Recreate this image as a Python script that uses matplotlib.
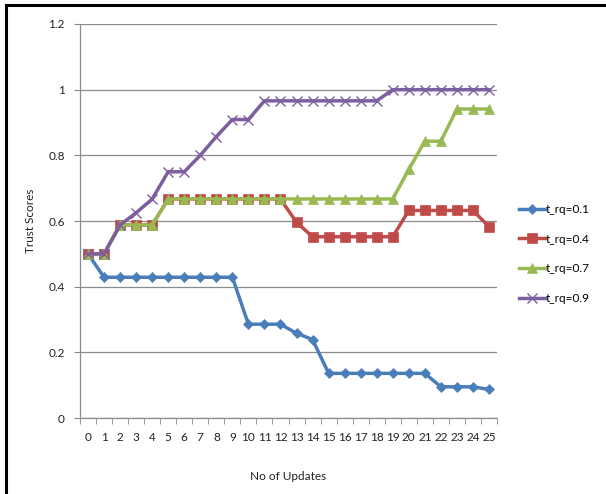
import matplotlib
matplotlib.use("Agg")
import matplotlib.pyplot as plt
from matplotlib.lines import Line2D
import numpy as np

updates = list(range(26))
trust_01 = [0.5, 0.4286, 0.4286, 0.4286, 0.4286, 0.4286, 0.4286, 0.4286, 0.4286, 0.4286,
            0.2857, 0.2857, 0.2857, 0.258, 0.239, 0.136, 0.136, 0.136, 0.136, 0.136,
            0.136, 0.136, 0.095, 0.095, 0.095, 0.087]
trust_04 = [0.5, 0.5, 0.588, 0.588, 0.588, 0.667, 0.667, 0.667, 0.667, 0.667,
            0.667, 0.667, 0.667, 0.596, 0.552, 0.552, 0.552, 0.552, 0.552, 0.552,
            0.632, 0.632, 0.632, 0.632, 0.632, 0.583]
trust_07 = [0.5, 0.5, 0.588, 0.588, 0.588, 0.667, 0.667, 0.667, 0.667, 0.667,
            0.667, 0.667, 0.667, 0.667, 0.667, 0.667, 0.667, 0.667, 0.667, 0.667,
            0.757, 0.843, 0.843, 0.941, 0.941, 0.941]
trust_09 = [0.5, 0.5, 0.588, 0.625, 0.667, 0.75, 0.75, 0.8, 0.857, 0.909,
            0.909, 0.966, 0.966, 0.966, 0.966, 0.966, 0.966, 0.966, 0.966, 1.0,
            1.0, 1.0, 1.0, 1.0, 1.0, 1.0]
labels = ["t_rq=0.1", "t_rq=0.4", "t_rq=0.7", "t_rq=0.9"]

plt.rcParams['font.family'] = ['Lato', 'DejaVu Sans']

fig = plt.figure(figsize=(6.06, 4.94), dpi=100)
ax = fig.add_axes([80/606, 1-418/494, (497-80)/606, (418-24)/494])

styles = [
    dict(color="#4A7EBB", marker="D", ms=5.5),
    dict(color="#BE4B48", marker="s", ms=6.5),
    dict(color="#98B954", marker="^", ms=7.5),
    dict(color="#7D5FA0", marker="x", ms=7, mew=1.0),
]
series = [trust_01, trust_04, trust_07, trust_09]
handles = []
for vals, st, lab in zip(series, styles, labels):
    h, = ax.plot(updates, vals, lw=2.5, label=lab, color=st["color"],
                 marker=st["marker"], markersize=st["ms"],
                 markeredgewidth=st.get("mew", 0.5), markeredgecolor=st["color"],
                 markerfacecolor=st["color"], solid_joinstyle="round")
    handles.append(h)

ax.set_xlim(-0.5, 25.5)
ax.set_ylim(0, 1.2)
ax.set_yticks(np.arange(0, 1.21, 0.2))
ax.set_yticklabels(["0", "0.2", "0.4", "0.6", "0.8", "1", "1.2"])
ax.set_xticks(updates)
ax.set_xticklabels([str(u) for u in updates])
ax.set_xticks(np.arange(-0.5, 25.6, 1), minor=True)
ax.tick_params(axis="x", which="major", length=0, pad=10, labelsize=8.5, colors="#222222")
ax.tick_params(axis="x", which="minor", length=4, color="#888888", direction="out")
ax.tick_params(axis="y", length=4, color="#888888", labelsize=8.5, colors="#222222", pad=7)
ax.grid(axis="y", color="#8c8c8c", lw=0.9)
ax.set_axisbelow(True)
for side in ("top", "right"):
    ax.spines[side].set_visible(False)
for side in ("left", "bottom"):
    ax.spines[side].set_color("#8c8c8c")
    ax.spines[side].set_linewidth(0.9)

ax.set_xlabel("No of Updates", fontsize=8.5, color="#222222", labelpad=20)
ax.set_ylabel("Trust Scores", fontsize=8.5, color="#222222", labelpad=9)

fig.legend(handles=handles, labels=labels, loc="center left",
           bbox_to_anchor=(513/606, 1-254/494), frameon=False, fontsize=8.5,
           labelspacing=1.6, handlelength=2.2, handletextpad=0.05, borderpad=0)

# outer frame (top and left edges)
fig.add_artist(Line2D([6/606, 1.0], [1-5/494, 1-5/494], transform=fig.transFigure,
                      color="black", lw=2.2))
fig.add_artist(Line2D([6/606, 6/606], [0, 1-5/494], transform=fig.transFigure,
                      color="black", lw=2.2))

fig.savefig("out.png", dpi=100)
